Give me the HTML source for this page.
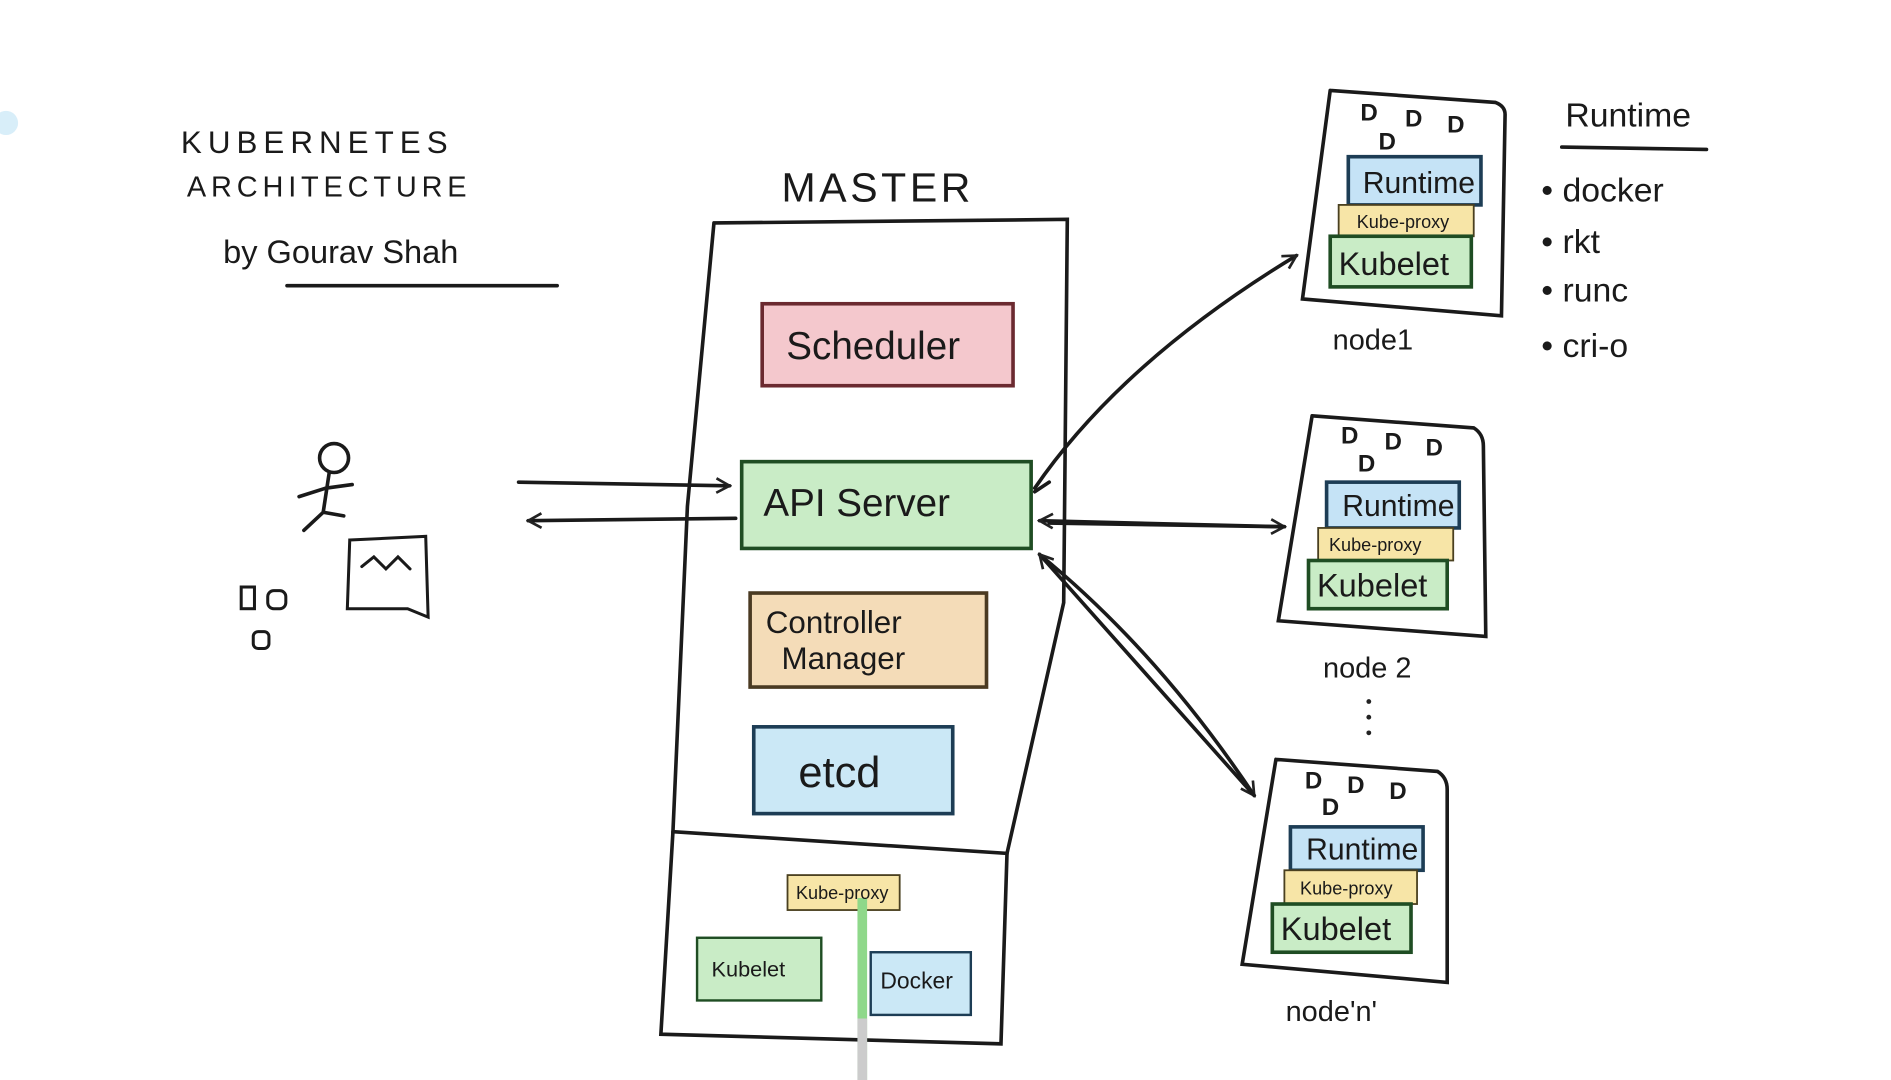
<!DOCTYPE html>
<html><head><meta charset="utf-8"><style>
html,body{margin:0;padding:0;background:#fff;width:1891px;height:1080px;overflow:hidden}
svg{display:block}
text{font-family:"Liberation Sans",sans-serif;fill:#1a1a1a}
</style></head><body>
<svg width="1891" height="1080" viewBox="0 0 1568 896" preserveAspectRatio="none">
<defs><marker id="a" markerWidth="14" markerHeight="14" refX="12" refY="7" orient="auto" markerUnits="userSpaceOnUse"><path d="M1,1 L12,7 L1,13" fill="none" stroke="#222" stroke-width="2.2"/></marker></defs>
<g stroke="#1a1a1a" stroke-width="3" fill="none" stroke-linecap="round">
<line x1="238" y1="237" x2="462" y2="237"/>
<path d="M592,185 L885,182 L882,500 L835,708 L558,690 L570,420 L592,185"/>
<path d="M558,690 L548,858 L830,866 L835,708"/>
<circle cx="277" cy="380" r="12"/>
<path d="M273,392 L268,425 L252,440 M270,405 L248,412 M270,405 L292,402 M268,425 L285,428"/>
<path d="M290,448 L353,445 L355,512 L338,505 L288,505 Z M300,470 L310,462 L320,472 L330,462 L340,472" stroke-width="2.5"/>
<rect x="200" y="487" width="11" height="18" stroke-width="2.5"/><rect x="222" y="490" width="15" height="15" stroke-width="2.5" rx="5"/><rect x="210" y="524" width="13" height="14" stroke-width="2.5" rx="4"/>
<line x1="430" y1="400" x2="605" y2="403" marker-end="url(#a)"/>
<line x1="610" y1="430" x2="438" y2="432" marker-end="url(#a)"/>
<path d="M858,405 Q930,300 1075,212" marker-end="url(#a)"/>
<path d="M858,408 L870,400" />
<line x1="870" y1="434" x2="1065" y2="437" marker-end="url(#a)"/>
<line x1="1065" y1="437" x2="862" y2="432" marker-end="url(#a)"/>
<path d="M862,460 Q960,540 1040,660" marker-end="url(#a)"/>
<line x1="1040" y1="660" x2="862" y2="460" marker-end="url(#a)"/>
<path d="M1103,75 L1240,85 Q1248,88 1248,95 L1245,262 L1080,248 L1103,75"/>
<path d="M1088,345 L1222,355 Q1230,360 1230,370 L1232,528 L1060,515 L1088,345"/>
<path d="M1058,630 L1192,640 Q1200,645 1200,655 L1200,815 L1030,800 L1058,630"/>
<line x1="1295" y1="122" x2="1415" y2="124"/>
</g>
<g stroke-width="3">
<rect x="632" y="252" width="208" height="68" fill="#f4c8cd" stroke="#6b2a30"/>
<rect x="615" y="383" width="240" height="72" fill="#c9ecc6" stroke="#1f4d23"/>
<rect x="622" y="492" width="196" height="78" fill="#f4dcb8" stroke="#4a3a22"/>
<rect x="625" y="603" width="165" height="72" fill="#cbe8f6" stroke="#1d3d55"/>
<rect x="653" y="726" width="93" height="29" fill="#f7e5a7" stroke="#4a4020" stroke-width="1.5"/>
<rect x="578" y="778" width="103" height="52" fill="#c9ecc6" stroke="#1f4d23" stroke-width="2"/>
<rect x="722" y="790" width="83" height="52" fill="#cbe8f6" stroke="#1d3d55" stroke-width="2"/>
<rect x="1118" y="130" width="110" height="40" fill="#c5e3f6" stroke="#1d3d55"/>
<rect x="1110" y="170" width="112" height="26" fill="#f7e5a7" stroke="#4a4020" stroke-width="1.5"/>
<rect x="1103" y="196" width="117" height="42" fill="#c9ecc6" stroke="#1f4d23"/>
<rect x="1100" y="400" width="110" height="38" fill="#c5e3f6" stroke="#1d3d55"/>
<rect x="1093" y="438" width="112" height="27" fill="#f7e5a7" stroke="#4a4020" stroke-width="1.5"/>
<rect x="1085" y="465" width="115" height="40" fill="#c9ecc6" stroke="#1f4d23"/>
<rect x="1070" y="686" width="110" height="36" fill="#c5e3f6" stroke="#1d3d55"/>
<rect x="1065" y="722" width="110" height="28" fill="#f7e5a7" stroke="#4a4020" stroke-width="1.5"/>
<rect x="1055" y="750" width="115" height="40" fill="#c9ecc6" stroke="#1f4d23"/>
</g>
<line x1="715" y1="745" x2="715" y2="896" stroke="#8fd88a" stroke-width="8"/>
<line x1="715" y1="845" x2="715" y2="896" stroke="#ccc" stroke-width="8"/>
<g font-size="20" font-weight="bold">
<text x="1128" y="100">D</text><text x="1165" y="105">D</text><text x="1200" y="110">D</text><text x="1143" y="124">D</text>
<text x="1112" y="368">D</text><text x="1148" y="373">D</text><text x="1182" y="378">D</text><text x="1126" y="391">D</text>
<text x="1082" y="654">D</text><text x="1117" y="658">D</text><text x="1152" y="663">D</text><text x="1096" y="676">D</text>
</g>
<g fill="#222"><circle cx="1135" cy="582" r="2"/><circle cx="1135" cy="595" r="2"/><circle cx="1135" cy="608" r="2"/></g>
<text x="150" y="127" font-size="26" letter-spacing="5">KUBERNETES</text>
<text x="155" y="163" font-size="24" letter-spacing="4">ARCHITECTURE</text>
<text x="185" y="218" font-size="27">by Gourav Shah</text>
<text x="648" y="167" font-size="34" letter-spacing="3">MASTER</text>
<text x="652" y="298" font-size="32" fill="#4a1a20">Scheduler</text>
<text x="633" y="428" font-size="32" fill="#1f4d23">API  Server</text>
<text x="635" y="525" font-size="26" fill="#3a2a12">Controller</text>
<text x="648" y="555" font-size="26" fill="#3a2a12">Manager</text>
<text x="662" y="653" font-size="36" fill="#1d3d55">etcd</text>
<text x="660" y="746" font-size="15">Kube-proxy</text>
<text x="590" y="810" font-size="18" fill="#1f4d23">Kubelet</text>
<text x="730" y="820" font-size="19" fill="#1d3d55">Docker</text>
<g font-size="25" fill="#1d3d55"><text x="1130" y="160">Runtime</text><text x="1113" y="428">Runtime</text><text x="1083" y="713">Runtime</text></g>
<g font-size="15"><text x="1125" y="189">Kube-proxy</text><text x="1102" y="457">Kube-proxy</text><text x="1078" y="742">Kube-proxy</text></g>
<g font-size="27" fill="#1f4d23"><text x="1110" y="228">Kubelet</text><text x="1092" y="495">Kubelet</text><text x="1062" y="780">Kubelet</text></g>
<g font-size="24"><text x="1105" y="290">node1</text><text x="1097" y="562">node 2</text><text x="1066" y="847">node'n'</text></g>
<g font-size="28"><text x="1298" y="105">Runtime</text>
<text x="1278" y="167">• docker</text><text x="1278" y="210">• rkt</text><text x="1278" y="250">• runc</text><text x="1278" y="296">• cri-o</text></g>
<circle cx="5" cy="102" r="10" fill="#d8eef9"/>
</svg>
</body></html>
